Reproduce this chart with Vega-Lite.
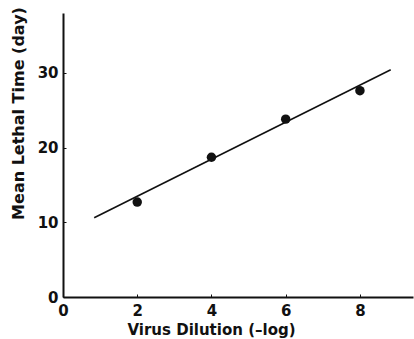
{
  "$schema": "https://vega.github.io/schema/vega-lite/v6.json",
  "width": 350,
  "height": 284,
  "autosize": "none",
  "padding": {"left": 63, "top": 13, "right": 1, "bottom": 42},
  "background": "white",
  "config": {
    "view": {"stroke": null},
    "font": "DejaVu Sans",
    "axis": {
      "grid": false,
      "domainColor": "#111",
      "domainWidth": 2,
      "tickColor": "#111",
      "tickWidth": 1,
      "tickSize": -3,
      "labelFlush": false,
      "labelFont": "DejaVu Sans",
      "labelFontWeight": "bold",
      "labelFontSize": 15,
      "labelColor": "#111",
      "titleFont": "DejaVu Sans",
      "titleFontWeight": "bold",
      "titleFontSize": 16,
      "titleColor": "#111"
    }
  },
  "datasets": {
    "observed": [
      {"dilution": 2, "mlt": 12.7},
      {"dilution": 4, "mlt": 18.7},
      {"dilution": 6, "mlt": 23.8},
      {"dilution": 8, "mlt": 27.6}
    ],
    "fit": [
      {"dilution": 0.84, "mlt": 10.6},
      {"dilution": 8.83, "mlt": 30.4}
    ]
  },
  "layer": [
    {
      "data": {"name": "fit"},
      "mark": {"type": "line", "color": "#111", "strokeWidth": 1.6},
      "encoding": {
        "x": {
          "field": "dilution",
          "type": "quantitative",
          "scale": {"domain": [0, 9.43], "nice": false, "zero": true},
          "axis": {
            "values": [0, 2, 4, 6, 8],
            "labelPadding": 9,
            "labelBaseline": "top",
            "title": "Virus Dilution (–log)",
            "titleFontSize": 15,
            "titleX": 148,
            "titleY": 32,
            "titleAlign": "center",
            "titleBaseline": "middle"
          }
        },
        "y": {
          "field": "mlt",
          "type": "quantitative",
          "scale": {"domain": [0, 38], "nice": false},
          "axis": {
            "values": [0, 10, 20, 30],
            "labelPadding": 8,
            "title": "Mean Lethal Time (day)",
            "titleX": -45,
            "titleY": 100,
            "titleAlign": "center",
            "titleBaseline": "middle"
          }
        }
      }
    },
    {
      "data": {"name": "observed"},
      "mark": {"type": "circle", "color": "#111", "opacity": 1, "size": 90},
      "encoding": {
        "x": {"field": "dilution", "type": "quantitative"},
        "y": {"field": "mlt", "type": "quantitative"}
      }
    }
  ]
}
